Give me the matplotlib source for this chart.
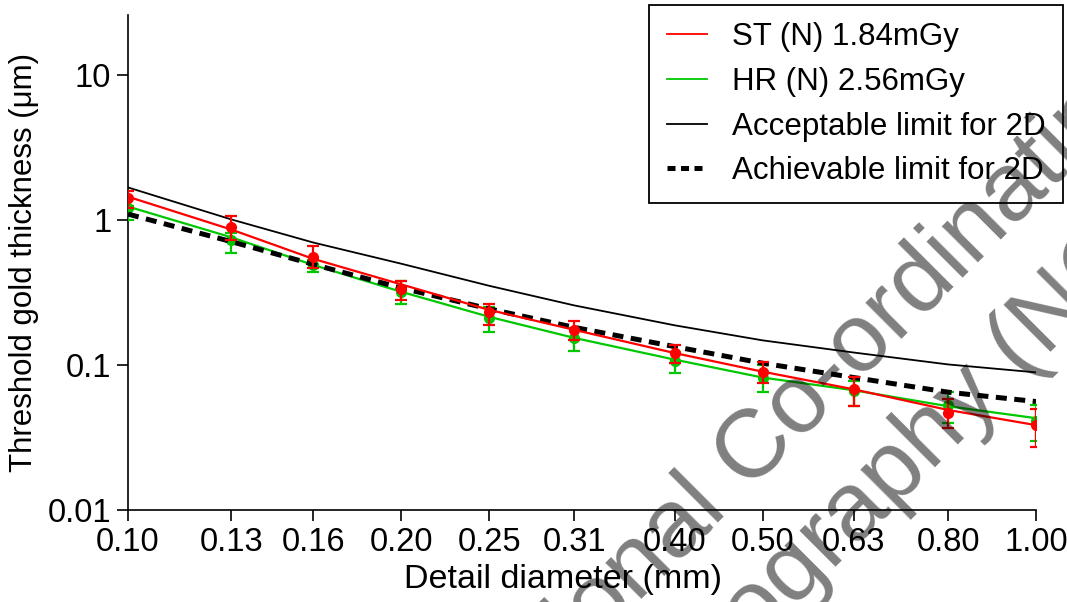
import numpy as np
import matplotlib
matplotlib.use('Agg')
import matplotlib.pyplot as plt
from matplotlib.ticker import FixedLocator, FixedFormatter, NullLocator

plt.rcParams['font.family'] = ['Liberation Sans', 'DejaVu Sans']

# detail diameters (mm) and tick labels
diam = [0.10, 0.13, 0.16, 0.20, 0.25, 0.31, 0.40, 0.50, 0.63, 0.80, 1.00]
diam_labels = ['0.10', '0.13', '0.16', '0.20', '0.25', '0.31', '0.40', '0.50', '0.63', '0.80', '1.00']

# limit curves (um)
acceptable = [1.68, 1.01, 0.70, 0.50, 0.352, 0.258, 0.188, 0.148, 0.122, 0.101, 0.089]
achievable = [1.10, 0.71, 0.495, 0.34, 0.244, 0.182, 0.134, 0.103, 0.082, 0.065, 0.056]

# fitted curves
st_fit = [1.45, 0.86, 0.54, 0.36, 0.24, 0.175, 0.121, 0.090, 0.068, 0.049, 0.0385]
hr_fit = [1.24, 0.76, 0.49, 0.32, 0.215, 0.154, 0.109, 0.082, 0.067, 0.052, 0.043]

# measured points with lower / upper limits
st_pts = [1.41, 0.90, 0.56, 0.336, 0.233, 0.175, 0.121, 0.0895, 0.068, 0.047, 0.0385]
st_lo = [1.22, 0.73, 0.47, 0.28, 0.19, 0.149, 0.103, 0.075, 0.052, 0.037, 0.027]
st_hi = [1.60, 1.06, 0.66, 0.38, 0.265, 0.20, 0.138, 0.105, 0.083, 0.058, 0.050]

hr_pts = [1.22, 0.73, 0.49, 0.32, 0.21, 0.154, 0.107, 0.082, 0.066, 0.053, 0.041]
hr_lo = [1.00, 0.59, 0.44, 0.265, 0.17, 0.125, 0.088, 0.065, 0.052, 0.040, 0.030]
hr_hi = [1.26, 0.82, 0.53, 0.38, 0.25, 0.18, 0.123, 0.10, 0.078, 0.065, 0.053]

RED = '#ff0000'
GREEN = '#00c800'

fig = plt.figure(figsize=(10.67, 6.02), dpi=100)
ax = fig.add_axes([128/1067, 1-510/602, (1036-128)/1067, (510-15)/602])

ax.plot(diam, acceptable, color='black', lw=1.3, zorder=2)

hr_err = [np.array(hr_pts) - np.array(hr_lo), np.array(hr_hi) - np.array(hr_pts)]
ax.errorbar(diam, hr_pts, yerr=hr_err, fmt='o', color=GREEN, ms=7, elinewidth=1.6,
            capsize=4, capthick=1.6, zorder=3)
ax.plot(diam, hr_fit, color=GREEN, lw=1.6, zorder=3)

ax.plot(diam, achievable, color='black', lw=3.6, ls=(0, (2.2, 1.5)), zorder=4)

st_err = [np.array(st_pts) - np.array(st_lo), np.array(st_hi) - np.array(st_pts)]
ax.errorbar(diam, st_pts, yerr=st_err, fmt='o', color=RED, ms=7, elinewidth=1.6,
            capsize=4, capthick=1.6, zorder=5)
ax.plot(diam, st_fit, color=RED, lw=1.6, zorder=5)

ax.set_xscale('log')
ax.set_yscale('log')
ax.set_xlim(0.1, 1.0)
ax.set_ylim(0.01, 26)

ax.xaxis.set_major_locator(FixedLocator(diam))
ax.xaxis.set_major_formatter(FixedFormatter(diam_labels))
ax.xaxis.set_minor_locator(NullLocator())
ax.yaxis.set_major_locator(FixedLocator([0.01, 0.1, 1, 10]))
ax.yaxis.set_major_formatter(FixedFormatter(['0.01', '0.1', '1', '10']))
ax.yaxis.set_minor_locator(NullLocator())

for s in ['top', 'right']:
    ax.spines[s].set_visible(False)
for s in ['left', 'bottom']:
    ax.spines[s].set_linewidth(1.2)
ax.tick_params(axis='both', direction='out', length=8, width=1.2, labelsize=23.5, pad=4)

ax.set_xlabel('Detail diameter (mm)', fontsize=24.5)
ax.xaxis.set_label_coords(0.479, -0.11)
ax.set_ylabel('Threshold gold thickness (\u03bcm)', fontsize=22.5, labelpad=6)

# legend with proxy handles
h_st, = ax.plot([], [], color=RED, lw=1.3)
h_hr, = ax.plot([], [], color=GREEN, lw=1.3)
h_ac, = ax.plot([], [], color='black', lw=1.3)
h_av, = ax.plot([], [], color='black', lw=3.6, ls=(0, (1.6, 1.1)))
leg = fig.legend([h_st, h_hr, h_ac, h_av],
                 ['ST (N) 1.84mGy', 'HR (N) 2.56mGy', 'Acceptable limit for 2D', 'Achievable limit for 2D'],
                 loc='upper right', bbox_to_anchor=(1063/1067, 1-5/602), borderaxespad=0,
                 fontsize=22.5, frameon=True, fancybox=False, framealpha=1, edgecolor='black',
                 handlelength=1.3, handletextpad=0.8, labelspacing=0.47, borderpad=0.55)
leg.get_frame().set_linewidth(1.3)

# watermark
fig.text(477/1067, 1-764/602, 'National Co-ordinating Centre for the', fontsize=70, rotation=45,
         rotation_mode='anchor', ha='left', va='baseline', color='black', alpha=0.5, zorder=20)
fig.text(545/1067, 1-858/602, 'Mammography (NCCPM)', fontsize=70, rotation=45,
         rotation_mode='anchor', ha='left', va='baseline', color='black', alpha=0.5, zorder=20)

fig.savefig('out.png', dpi=100)
